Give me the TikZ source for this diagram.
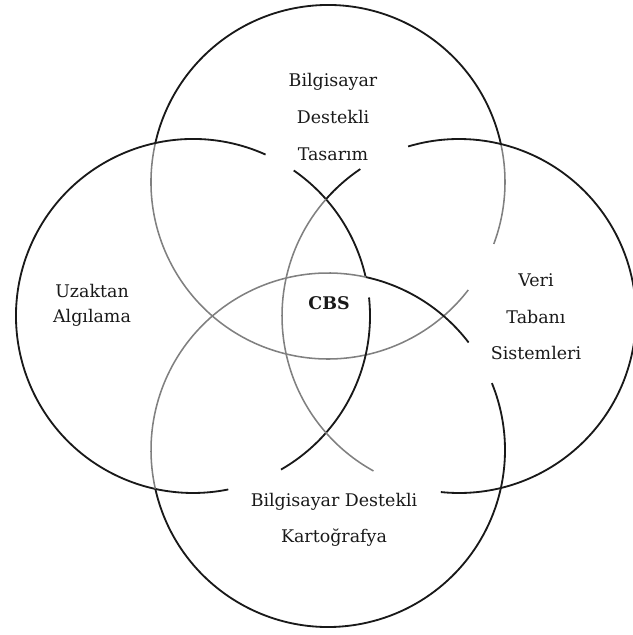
\documentclass[tikz,border=0pt]{standalone}
\usepackage{fontspec}
\setmainfont{DejaVu Serif}
\usepackage{tikz}
\usetikzlibrary{positioning}
\tikzset{
      ringblack/.style={
        draw=black!90,
        line width=1.3pt
      },
      ringgray/.style={
        draw=black!50,
        line width=1.1pt
      },
      fieldlabel/.style={
        align=center,
        inner sep=0pt,
        text=black!90,
        font=\fontsize{12.4}{26}\selectfont
      }
    }

\begin{document}
\begin{tikzpicture}[x=0.025cm,y=0.025cm]
    \useasboundingbox (0,0) rectangle (632,635);
    % circle centres
    \coordinate (ctop) at (328,453);
    \coordinate (cleft) at (193,319);
    \coordinate (cright) at (459,319);
    \coordinate (cbot) at (328,185);

    % top circle
    \draw[ringblack] ([shift={(12.4:177)}]ctop) arc[start angle=12.4, end angle=167.3, radius=177];
    \draw[ringgray] ([shift={(167.3:177)}]ctop) arc[start angle=167.3, end angle=322.4, radius=177];
    \draw[ringgray] ([shift={(339.5:177)}]ctop) arc[start angle=339.5, end angle=372.4, radius=177];

    % left circle
    \draw[ringblack] ([shift={(65.8:177)}]cleft) arc[start angle=65.8, end angle=281.5, radius=177];
    \draw[ringblack] ([shift={(-60.2:177)}]cleft) arc[start angle=-60.2, end angle=6, radius=177];
    \draw[ringblack] ([shift={(12.7:177)}]cleft) arc[start angle=12.7, end angle=55.3, radius=177];

    % right circle
    \draw[ringblack] ([shift={(123.9:177)}]cright) arc[start angle=123.9, end angle=138.7, radius=177];
    \draw[ringgray] ([shift={(138.7:177)}]cright) arc[start angle=138.7, end angle=241.1, radius=177];
    \draw[ringblack] ([shift={(264.1:177)}]cright) arc[start angle=264.1, end angle=466.7, radius=177];

    % bottom circle
    \draw[ringblack] ([shift={(37.4:177)}]cbot) arc[start angle=37.4, end angle=77.7, radius=177];
    \draw[ringgray] ([shift={(77.7:177)}]cbot) arc[start angle=77.7, end angle=192.7, radius=177];
    \draw[ringblack] ([shift={(-167.3:177)}]cbot) arc[start angle=-167.3, end angle=22.2, radius=177];

    \node[fieldlabel] (cad) at (333,518) {Bilgisayar\\Destekli\\Tasarım};
    \node[fieldlabel, font=\fontsize{12.4}{18}\selectfont] (rs) at (92,330) {Uzaktan\\Algılama};
    \node[fieldlabel] (dbms) at (536,318) {Veri\\Tabanı\\Sistemleri};
    \node[fieldlabel] (cartog) at (334,115) {Bilgisayar Destekli\\Kartoğrafya};
    \node[fieldlabel, font=\fontsize{12.4}{15}\selectfont\bfseries] (gis) at (329,332) {CBS};
    \end{tikzpicture}
\end{document}
